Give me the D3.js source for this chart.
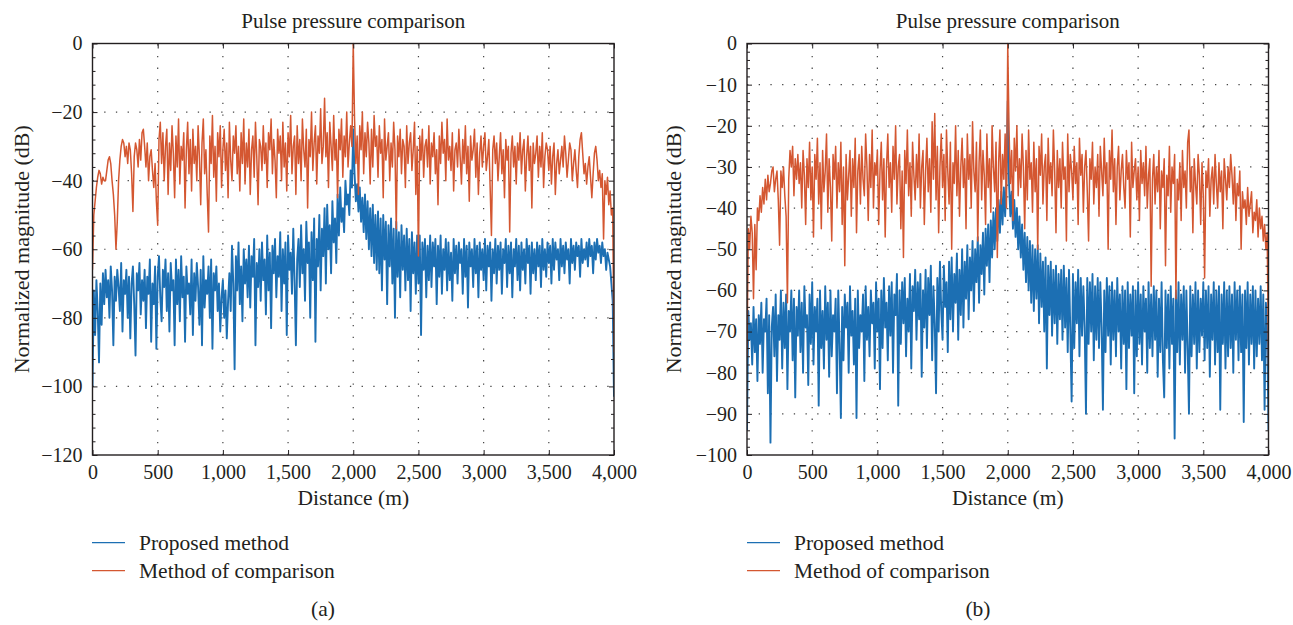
<!DOCTYPE html>
<html><head><meta charset="utf-8">
<script src="https://cdn.jsdelivr.net/npm/d3@7"></script>
<style>
body{margin:0;background:#fff;}
svg text{font-family:"Liberation Serif","Times New Roman",serif;fill:#231f20;}
</style></head><body>
<svg id="c" width="1293" height="625"></svg>
<script>
const chartTitle = "Pulse pressure comparison";
const xLabel = "Distance (m)";
const yLabel = "Normalized magnitude (dB)";
const seriesNames = ["Proposed method", "Method of comparison"];
const panelLabels = ["(a)", "(b)"];
const distanceStep = 10; // metres between samples
const xTicks = [0, 500, 1000, 1500, 2000, 2500, 3000, 3500, 4000];
const yTicksA = [0, -20, -40, -60, -80, -100, -120];
const yTicksB = [0, -10, -20, -30, -40, -50, -60, -70, -80, -90, -100];

// Panel (a)
const aComparison = [
-66,-50,-46,-42,-39,-37,-38,-41,-39,-40,
-40,-37,-34,-33,-35,-40,-44,-50,-60,-52,
-40,-34,-30,-28,-29,-33,-30,-35,-29,-31,
-38,-49,-33,-29,-31,-36,-28,-34,-26,-25,
-30,-36,-29,-40,-33,-31,-37,-42,-35,-46,
-53,-28,-23,-35,-26,-40,-30,-25,-44,-29,
-37,-24,-32,-45,-27,-36,-22,-41,-30,-34,
-26,-48,-31,-23,-38,-28,-43,-25,-35,-30,
-40,-24,-33,-47,-29,-22,-38,-31,-44,-55,
-27,-35,-21,-39,-30,-46,-26,-33,-24,-42,
-31,-25,-37,-29,-45,-23,-34,-40,-27,-32,
-24,-38,-30,-43,-26,-35,-22,-41,-29,-36,
-25,-44,-31,-27,-39,-23,-33,-47,-28,-30,
-37,-24,-35,-29,-42,-26,-31,-22,-38,-28,
-34,-45,-25,-32,-27,-40,-23,-36,-29,-43,
-26,-33,-21,-38,-30,-27,-44,-24,-35,-28,
-40,-22,-31,-36,-25,-48,-28,-33,-20,-37,
-29,-24,-41,-27,-32,-19,-35,-30,-16,-33,
-26,-42,-23,-30,-37,-21,-34,-28,-45,-25,
-31,-22,-39,-27,-33,-20,-36,-29,-24,-30,
0,-22,-35,-27,-44,-24,-31,-20,-38,-26,
-33,-23,-29,-41,-25,-36,-21,-30,-27,-39,
-24,-32,-28,-45,-22,-34,-30,-26,-40,-29,
-36,-23,-31,-54,-27,-33,-25,-38,-28,-30,
-42,-24,-35,-29,-26,-37,-31,-23,-44,-30,
-62,-27,-34,-25,-39,-30,-28,-36,-24,-41,
-29,-33,-26,-38,-31,-47,-27,-35,-23,-32,
-28,-40,-22,-34,-30,-37,-26,-43,-31,-29,
-36,-25,-33,-41,-28,-35,-24,-38,-30,-46,
-27,-34,-31,-25,-39,-29,-44,-32,-27,-36,
-30,-26,-37,-33,-28,-42,-56,-31,-27,-35,
-29,-40,-33,-26,-38,-31,-45,-28,-34,-30,
-55,-32,-27,-36,-30,-41,-29,-34,-26,-38,
-31,-28,-43,-33,-27,-37,-30,-48,-29,-35,
-32,-27,-39,-30,-36,-26,-42,-33,-29,-31,
-37,-30,-41,-33,-29,-44,-35,-31,-38,-34,
-30,-36,-27,-32,-39,-34,-29,-31,-40,-35,
-31,-37,-42,-33,-28,-26,-32,-38,-35,-41,
-36,-33,-39,-45,-38,-32,-30,-34,-40,-37,
-42,-38,-57,-40,-44,-39,-47,-43,-50,-48,
-90];

const aProposed = [
-100,-72,-85,-69,-78,-93,-70,-82,-67,-76,
-66,-74,-69,-80,-65,-72,-88,-68,-75,-66,
-71,-78,-64,-84,-69,-73,-66,-80,-68,-86,
-70,-65,-76,-91,-67,-72,-64,-79,-69,-75,
-66,-83,-68,-73,-63,-87,-70,-76,-65,-89,
-68,-62,-74,-81,-66,-71,-63,-78,-67,-84,
-64,-72,-69,-88,-63,-76,-66,-81,-62,-74,
-68,-87,-65,-73,-70,-79,-63,-85,-67,-75,
-64,-71,-82,-66,-88,-62,-77,-69,-73,-65,
-80,-63,-89,-67,-72,-65,-78,-70,-84,-74,
-69,-80,-72,-86,-75,-67,-78,-59,-70,-95,
-62,-72,-58,-76,-65,-81,-60,-70,-63,-74,
-59,-77,-62,-68,-57,-88,-64,-71,-60,-75,
-58,-69,-63,-79,-56,-72,-61,-83,-59,-67,
-57,-74,-62,-68,-55,-78,-60,-70,-58,-85,
-56,-66,-61,-73,-54,-69,-88,-63,-57,-71,
-53,-67,-60,-75,-52,-64,-58,-80,-55,-69,
-51,-87,-57,-65,-50,-72,-54,-62,-48,-70,
-47,-60,-53,-67,-46,-58,-51,-64,-44,-56,
-42,-52,-48,-55,-40,-47,-44,-50,-37,-42,
-25,-38,-46,-41,-49,-42,-52,-45,-55,-44,
-57,-46,-60,-48,-62,-47,-64,-50,-66,-49,
-67,-51,-72,-50,-63,-52,-76,-53,-65,-51,
-70,-54,-80,-52,-68,-55,-74,-53,-66,-56,
-72,-54,-69,-57,-78,-55,-67,-58,-73,-56,
-70,-56,-85,-58,-66,-57,-74,-59,-69,-56,
-71,-58,-65,-57,-76,-59,-68,-56,-73,-60,
-66,-57,-72,-58,-69,-61,-75,-57,-67,-59,
-70,-58,-64,-60,-73,-57,-68,-59,-77,-58,
-65,-60,-71,-57,-67,-59,-74,-58,-66,-60,
-69,-57,-72,-59,-65,-58,-75,-60,-67,-57,
-70,-59,-66,-58,-73,-60,-64,-57,-71,-59,
-67,-58,-74,-60,-65,-57,-69,-59,-72,-58,
-66,-60,-70,-57,-64,-59,-73,-58,-67,-60,
-69,-58,-65,-59,-71,-57,-66,-60,-68,-58,
-64,-59,-70,-57,-66,-58,-63,-60,-69,-57,
-65,-59,-67,-58,-63,-60,-70,-57,-64,-59,
-66,-58,-62,-59,-68,-57,-64,-60,-63,-58,
-65,-57,-62,-59,-67,-58,-63,-57,-61,-59,
-64,-58,-62,-60,-66,-61,-63,-65,-70,-75,
-103];

// Panel (b)
const bComparison = [
-76,-45,-50,-42,-46,-62,-44,-55,-40,-43,
-37,-41,-35,-39,-33,-38,-32,-36,-34,-31,
-30,-36,-33,-31,-38,-49,-31,-35,-30,-37,
-42,-63,-33,-26,-30,-25,-37,-28,-33,-27,
-34,-29,-40,-26,-32,-44,-28,-35,-24,-38,
-30,-47,-27,-33,-23,-39,-29,-45,-26,-36,
-31,-22,-41,-28,-35,-48,-27,-33,-25,-40,
-29,-36,-24,-44,-30,-54,-27,-38,-32,-26,
-42,-28,-35,-23,-46,-31,-27,-39,-25,-33,
-37,-22,-30,-43,-27,-35,-21,-40,-29,-32,
-26,-44,-31,-24,-38,-28,-47,-30,-22,-35,
-29,-41,-25,-33,-20,-39,-30,-27,-45,-31,
-52,-26,-34,-21,-37,-29,-42,-24,-32,-38,
-27,-35,-22,-40,-30,-26,-44,-31,-23,-36,
-28,-41,-19,-33,-17,-38,-25,-46,-30,-22,
-35,-27,-43,-21,-31,-39,-24,-50,-29,-34,
-20,-37,-26,-42,-30,-23,-35,-28,-45,-22,
-33,-27,-40,-19,-31,-36,-24,-48,-29,-21,
-38,-26,-32,-44,-22,-35,-28,-41,-20,-30,
-36,-24,-52,-29,-21,-39,-27,-33,-22,-40,
0,-21,-34,-26,-43,-23,-31,-20,-37,-28,
-35,-22,-30,-45,-26,-38,-21,-33,-29,-41,
-24,-36,-28,-50,-25,-32,-22,-39,-30,-27,
-43,-23,-34,-29,-37,-21,-31,-46,-26,-35,
-28,-40,-24,-33,-30,-48,-22,-36,-27,-31,
-38,-25,-34,-29,-44,-23,-32,-27,-41,-30,
-26,-36,-48,-28,-33,-24,-39,-30,-35,-27,
-42,-25,-31,-37,-23,-34,-29,-50,-26,-33,
-21,-36,-28,-44,-30,-25,-38,-31,-27,-35,
-40,-26,-33,-29,-47,-24,-35,-31,-28,-38,
-30,-43,-26,-34,-29,-37,-25,-40,-32,-28,
-59,-33,-27,-39,-30,-36,-26,-45,-31,-35,
-28,-54,-32,-37,-25,-41,-30,-34,-27,-62,
-33,-38,-29,-43,-26,-35,-31,-40,-24,-21,
-36,-30,-46,-28,-34,-39,-27,-32,-44,-29,
-37,-57,-31,-35,-28,-42,-33,-30,-39,-27,
-34,-40,-29,-36,-31,-45,-28,-33,-38,-30,
-35,-27,-32,-39,-30,-43,-34,-37,-31,-50,
-36,-40,-38,-44,-35,-42,-39,-36,-46,-41,
-43,-38,-47,-40,-45,-42,-48,-44,-50,-46,
-78];

const bProposed = [
-94,-65,-72,-68,-78,-64,-75,-67,-82,-66,
-73,-63,-80,-67,-70,-62,-85,-66,-97,-69,
-64,-76,-61,-82,-66,-72,-60,-79,-63,-74,
-61,-84,-65,-70,-60,-77,-62,-86,-64,-71,
-60,-75,-63,-80,-59,-69,-66,-83,-61,-73,
-58,-78,-64,-70,-62,-88,-60,-74,-65,-79,
-59,-72,-63,-81,-60,-76,-66,-70,-62,-85,
-60,-73,-91,-64,-77,-61,-69,-63,-80,-59,
-71,-65,-78,-62,-91,-60,-74,-66,-70,-61,
-82,-59,-72,-64,-76,-60,-68,-63,-79,-58,
-70,-62,-84,-60,-74,-57,-69,-63,-77,-59,
-71,-58,-80,-61,-66,-56,-88,-60,-73,-58,
-68,-57,-76,-62,-70,-56,-79,-59,-65,-55,
-72,-58,-67,-56,-81,-60,-69,-55,-74,-57,
-66,-54,-77,-59,-68,-85,-57,-70,-53,-65,
-72,-54,-64,-58,-75,-53,-67,-52,-70,-56,
-63,-51,-72,-55,-66,-50,-69,-53,-62,-49,
-67,-52,-60,-48,-65,-50,-58,-47,-63,-49,
-56,-46,-61,-45,-54,-44,-58,-43,-52,-41,
-50,-40,-48,-38,-46,-36,-44,-35,-42,-33,
-14,-34,-42,-36,-45,-38,-47,-40,-50,-42,
-52,-44,-55,-46,-58,-47,-60,-48,-63,-49,
-65,-50,-62,-49,-68,-51,-64,-53,-70,-52,
-79,-54,-66,-53,-71,-55,-68,-54,-73,-56,
-67,-55,-72,-54,-69,-57,-75,-55,-70,-87,
-56,-74,-58,-68,-55,-76,-57,-71,-59,-69,
-90,-57,-73,-58,-70,-56,-77,-59,-72,-57,
-74,-58,-69,-89,-60,-75,-57,-71,-59,-78,
-58,-72,-60,-76,-57,-70,-61,-79,-59,-73,
-60,-84,-58,-74,-61,-71,-59,-85,-60,-76,
-58,-73,-61,-78,-59,-70,-62,-80,-58,-74,
-61,-76,-59,-72,-60,-81,-62,-75,-58,-77,
-86,-60,-74,-61,-79,-59,-73,-62,-96,-60,
-75,-58,-78,-61,-72,-59,-80,-60,-74,-90,
-59,-76,-61,-73,-58,-79,-60,-75,-62,-71,
-58,-77,-60,-74,-59,-81,-61,-72,-58,-78,
-60,-75,-59,-89,-61,-73,-58,-79,-60,-76,
-59,-74,-61,-80,-58,-72,-60,-77,-59,-75,
-61,-92,-60,-74,-58,-78,-61,-73,-59,-79,
-60,-76,-62,-73,-59,-77,-61,-89,-63,-70,
-94];

const colors = ["#1c6fb3", "#d45731"];
const strokeWidths = [1.9, 1.5];

const panels = [
  {x0: 92.5, x1: 614, y0: 43.5, y1: 455, yDomain: [-120, 0], yTicks: yTicksA, minorStep: 4,
   proposed: aProposed, comparison: aComparison, yLabX: 29, legendX: 92, tagX: 323, tag: panelLabels[0]},
  {x0: 747, x1: 1268.5, y0: 43.5, y1: 455, yDomain: [-100, 0], yTicks: yTicksB, minorStep: 2,
   proposed: bProposed, comparison: bComparison, yLabX: 681, legendX: 747, tagX: 978, tag: panelLabels[1]}
];

[aProposed, aComparison, bProposed, bComparison].forEach((a, i) => {
  if (a.length !== 401) console.error("series " + i + " length " + a.length);
});

const svg = d3.select("#c");
const ink = "#231f20";

panels.forEach((p, pi) => {
  const x = d3.scaleLinear().domain([0, 4000]).range([p.x0, p.x1]);
  const y = d3.scaleLinear().domain(p.yDomain).range([p.y1, p.y0]);
  const g = svg.append("g");
  const clipId = "clip" + pi;
  svg.append("clipPath").attr("id", clipId).append("rect")
    .attr("x", p.x0).attr("y", p.y0 - 1).attr("width", p.x1 - p.x0).attr("height", p.y1 - p.y0 + 1);

  // grid
  const grid = g.append("g").attr("stroke", "#444").attr("stroke-width", 1.2).attr("stroke-dasharray", "1.3,10.4");
  xTicks.slice(1, -1).forEach(t => grid.append("line")
    .attr("x1", x(t)).attr("x2", x(t)).attr("y1", p.y1).attr("y2", p.y0));
  p.yTicks.slice(1, -1).forEach(t => grid.append("line")
    .attr("x1", p.x0).attr("x2", p.x1).attr("y1", y(t)).attr("y2", y(t)));

  // data
  const line = d3.line().x((d, i) => x(i * distanceStep)).y(d => y(d));
  const dg = g.append("g").attr("clip-path", `url(#${clipId})`).attr("fill", "none")
    .attr("stroke-linejoin", "round");
  dg.append("path").datum(p.proposed).attr("d", line).attr("stroke", colors[0]).attr("stroke-width", strokeWidths[0]);
  dg.append("path").datum(p.comparison).attr("d", line).attr("stroke", colors[1]).attr("stroke-width", strokeWidths[1]);

  // axes
  const styleAxis = sel => {
    sel.select(".domain").remove();
    sel.selectAll(".tick line").attr("stroke", ink).attr("stroke-width", 1);
    sel.selectAll("text").attr("font-size", 20).attr("fill", ink)
      .attr("font-family", '"Liberation Serif","Times New Roman",serif');
  };
  g.append("g").attr("transform", `translate(0,${p.y1})`)
    .call(d3.axisBottom(x).tickValues(xTicks).tickFormat(d3.format(",")).tickSizeInner(-5).tickSizeOuter(0).tickPadding(10))
    .call(styleAxis);
  g.append("g").attr("transform", `translate(0,${p.y0})`)
    .call(d3.axisTop(x).tickValues(xTicks).tickFormat("").tickSizeInner(-5).tickSizeOuter(0))
    .call(styleAxis);
  g.append("g").attr("transform", `translate(${p.x0},0)`)
    .call(d3.axisLeft(y).tickValues(p.yTicks).tickFormat(d3.format("d")).tickSizeInner(-5).tickSizeOuter(0).tickPadding(10))
    .call(styleAxis);
  g.append("g").attr("transform", `translate(${p.x1},0)`)
    .call(d3.axisRight(y).tickValues(p.yTicks).tickFormat("").tickSizeInner(-5).tickSizeOuter(0))
    .call(styleAxis);
  const minor = d3.range(p.yDomain[0], p.yDomain[1] + 0.001, p.minorStep).filter(v => !p.yTicks.includes(v));
  g.append("g").attr("transform", `translate(${p.x0},0)`)
    .call(d3.axisLeft(y).tickValues(minor).tickFormat("").tickSizeInner(-3).tickSizeOuter(0))
    .call(styleAxis);
  g.append("g").attr("transform", `translate(${p.x1},0)`)
    .call(d3.axisRight(y).tickValues(minor).tickFormat("").tickSizeInner(-3).tickSizeOuter(0))
    .call(styleAxis);

  // frame
  g.append("rect").attr("x", p.x0).attr("y", p.y0).attr("width", p.x1 - p.x0).attr("height", p.y1 - p.y0)
    .attr("fill", "none").attr("stroke", ink).attr("stroke-width", 1.4);

  const cx = (p.x0 + p.x1) / 2;
  g.append("text").attr("x", cx).attr("y", 28).attr("text-anchor", "middle").attr("font-size", 21).text(chartTitle);
  g.append("text").attr("x", cx).attr("y", 505).attr("text-anchor", "middle").attr("font-size", 21.5).text(xLabel);
  g.append("text").attr("transform", `translate(${p.yLabX},${(p.y0 + p.y1) / 2}) rotate(-90)`)
    .attr("text-anchor", "middle").attr("font-size", 22).text(yLabel);

  // legend
  const lg = g.append("g");
  [[542.7, 550], [570.7, 578]].forEach((r, i) => {
    lg.append("line").attr("x1", p.legendX).attr("x2", p.legendX + 33).attr("y1", r[0]).attr("y2", r[0])
      .attr("stroke", colors[i]).attr("stroke-width", 1.3);
    lg.append("text").attr("x", p.legendX + 47).attr("y", r[1]).attr("font-size", 21.5).text(seriesNames[i]);
  });
  g.append("text").attr("x", p.tagX).attr("y", 616).attr("text-anchor", "middle").attr("font-size", 21.5).text(p.tag);
});
</script>
</body></html>
